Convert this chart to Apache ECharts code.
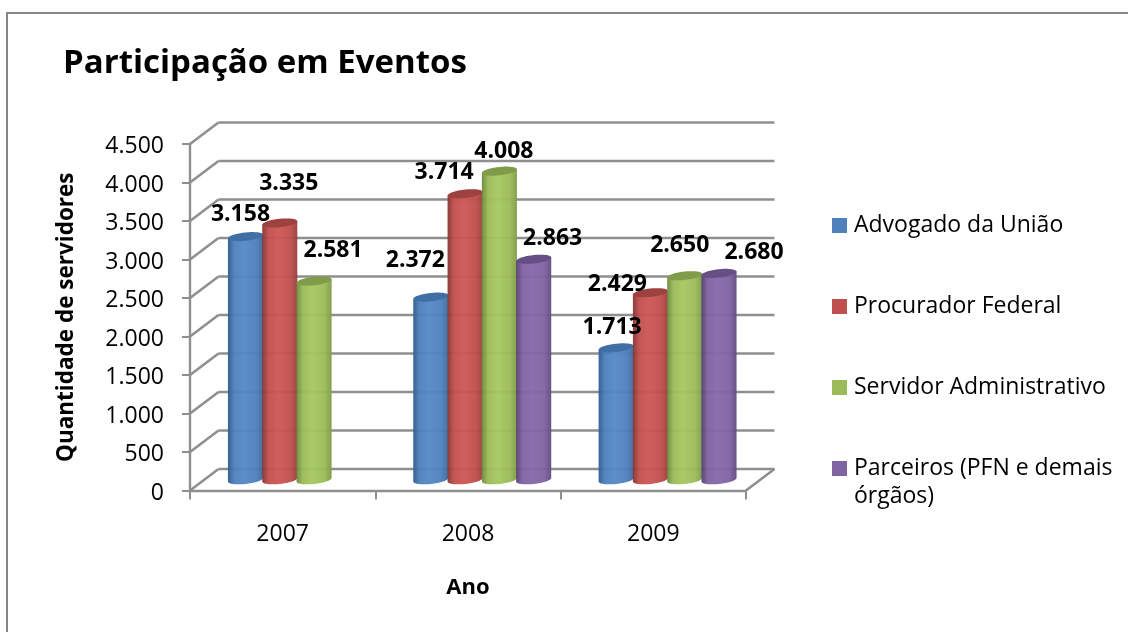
<!DOCTYPE html>
<html><head><meta charset="utf-8">
<style>html,body{margin:0;padding:0;background:#fff}#c{width:1128px;height:632px}</style>
<script src="https://cdn.jsdelivr.net/npm/echarts@6/dist/echarts.min.js"></script>
</head><body><div id="c"></div>
<script>
const categories = ['2007', '2008', '2009'];
const yTicks = [0, 500, 1000, 1500, 2000, 2500, 3000, 3500, 4000, 4500];
const seriesNames = ['Advogado da União', 'Procurador Federal', 'Servidor Administrativo', 'Parceiros (PFN e demais órgãos)'];
const advogado = [3158, 2372, 1713];
const procurador = [3335, 3714, 2429];
const servidor = [2581, 4008, 2650];
const parceiros = [null, 2863, 2680];

// label nudges in pixels, relative to each cylinder's top (style, not data)
const labelNudge = [
  [[-5, -22.5], [-15.5, -36.5], [-4, -20.5]],
  [[9, -40], [-21, -21.5], [-33, -8.5]],
  [[19, -30.5], [4.5, -20], [-5, -30.5]],
  [[0, 0], [19, -20.5], [35, -20.5]]
];
const palette = [
  {base:'#4F81BD', edgeL:'#2f5b8e', mid:'#5589c6', edgeR:'#3f6a9c', top:'#3f6fa5'},
  {base:'#C0504D', edgeL:'#863533', mid:'#cd5855', edgeR:'#9c403e', top:'#9e4240'},
  {base:'#9BBB59', edgeL:'#6c8a3c', mid:'#a6c960', edgeR:'#7f9c48', top:'#7f9c4a'},
  {base:'#8064A2', edgeL:'#54406f', mid:'#8669ab', edgeR:'#634d80', top:'#664f84'}
];
const FONT = '"Open Sans", "Noto Sans", sans-serif';
const DX = 28.5, DY = -21.5, GRID = '#8f8f8f';
const fmt = v => String(v).replace(/\B(?=(\d{3})+$)/g, '.');

function ellipsePts(cx, cy, rx, ry, tilt, from, to, n) {
  const pts = [];
  for (let i = 0; i <= n; i++) {
    const t = from + (to - from) * i / n;
    const x = Math.cos(t) * rx, y = Math.sin(t) * ry;
    pts.push([cx + x, cy + y - x / rx * tilt]);
  }
  return pts;
}

function cylinder(si) {
  return function (params, api) {
    const v = api.value(1);
    const cat = api.value(0);
    const band = api.size([1, 0])[0];
    const slot = band * 0.185;
    const rx = slot / 2 + 0.4, ry = 4.2, tilt = 1.8;
    const top = api.coord([cat, v]);
    const base = api.coord([cat, 0]);
    const cx = top[0] + DX / 2 + (si - 1.5) * slot;
    const yT = top[1] + DY / 2, yB = base[1] + DY / 2;
    const p = palette[si];
    const bottom = ellipsePts(cx, yB, rx, ry, tilt, 0, Math.PI, 24);
    const body = [[cx + rx, yT - tilt]].concat(bottom, [[cx - rx, yT + tilt]]);
    const grad = new echarts.graphic.LinearGradient(0, 0, 1, 0, [
      {offset: 0, color: p.edgeL}, {offset: 0.18, color: p.base}, {offset: 0.45, color: p.mid},
      {offset: 0.8, color: p.base}, {offset: 1, color: p.edgeR}
    ]);
    const n = labelNudge[si][cat];
    return {
      type: 'group',
      children: [
        {type: 'polygon', z2: 10 + si * 2, shape: {points: body}, style: {fill: grad, opacity: 0.96}},
        {type: 'polygon', z2: 11 + si * 2, shape: {points: ellipsePts(cx, yT, rx, ry, tilt, 0, Math.PI * 2, 40)}, style: {fill: p.top}},
        {type: 'text', z2: 50, style: {
          text: fmt(v), x: cx + n[0], y: yT + n[1], align: 'center', verticalAlign: 'middle',
          font: 'bold 23px ' + FONT, fill: '#000'
        }}
      ]
    };
  };
}

function toData(arr) {
  return arr.map((v, i) => [i, v]).filter(d => d[1] !== null);
}

const option = {
  animation: false,
  backgroundColor: '#fff',
  title: {
    text: 'Participação em Eventos', left: 58, top: 42,
    textStyle: {fontFamily: FONT, fontSize: 33, fontWeight: 'bold', color: '#000'}
  },
  grid: {left: 190, right: 382, top: 144, bottom: 141.5},
  legend: {
    orient: 'vertical', left: 832, top: 213.5, padding: 0, itemWidth: 15, itemHeight: 15, itemGap: 57,
    icon: 'rect', selectedMode: false,
    data: seriesNames,
    formatter: n => n.replace(' órgãos)', ''),
    textStyle: {fontFamily: FONT, fontSize: 23, lineHeight: 24, color: '#000', padding: [0, 0, 0, 2]}
  },
  xAxis: {
    type: 'category', data: categories,
    name: 'Ano', nameLocation: 'middle', nameGap: 86,
    nameTextStyle: {fontFamily: FONT, fontSize: 22, fontWeight: 'bold', color: '#000'},
    axisLine: {lineStyle: {color: GRID, width: 2.4}},
    axisTick: {show: true, length: 9, lineStyle: {color: GRID, width: 2}},
    axisLabel: {fontFamily: FONT, fontSize: 23, color: '#000', margin: 32},
    splitLine: {show: false}
  },
  yAxis: {
    type: 'value', min: 0, max: 4500, interval: 500,
    name: 'Quantidade de servidores', nameLocation: 'middle', nameGap: 112, nameRotate: 90,
    nameTextStyle: {fontFamily: FONT, fontSize: 22.5, fontWeight: 'bold', color: '#000'},
    axisLine: {show: true, lineStyle: {color: GRID, width: 2.4}},
    axisTick: {show: true, length: 8, lineStyle: {color: GRID, width: 2}},
    axisLabel: {
      margin: 26,
      formatter: v => '{t|' + fmt(v) + '}',
      rich: {t: {fontFamily: FONT, fontSize: 23, color: '#000', lineHeight: 23, padding: [5, 0, 0, 0]}}
    },
    splitLine: {show: false}
  },
  graphic: [
    {type: 'polyline', silent: true, shape: {points: [[7, 632], [7, 13], [1128, 13]]},
     style: {stroke: '#868686', lineWidth: 2, fill: 'none'}},
    {type: 'text', silent: true, left: 854, top: 485,
     style: {text: 'órgãos)', font: '23px ' + FONT, fill: '#000'}}
  ],
  series: [
    {
      type: 'custom', name: 'grade', z: 1, silent: true, clip: false,
      data: yTicks.map(v => [0, v]),
      renderItem: function (params, api) {
        const v = api.value(1);
        const p = api.coord([0, v]);
        const cs = params.coordSys;
        const x0 = cs.x, x1 = cs.x + cs.width, y = p[1];
        const st = {stroke: GRID, lineWidth: 2.6, fill: 'none'};
        const kids = [
          {type: 'line', shape: {x1: x0, y1: y, x2: x0 + DX, y2: y + DY}, style: st},
          {type: 'line', shape: {x1: x0 + DX, y1: y + DY, x2: x1 + DX, y2: y + DY}, style: st}
        ];
        if (v === 0) kids.push({type: 'line', shape: {x1: x1, y1: y, x2: x1 + DX, y2: y + DY}, style: st});
        return {type: 'group', children: kids};
      }
    }
  ].concat([advogado, procurador, servidor, parceiros].map((arr, si) => ({
    type: 'custom', name: seriesNames[si], z: 5, clip: false,
    itemStyle: {color: palette[si].base},
    data: toData(arr),
    renderItem: cylinder(si)
  })))
};
const chart = echarts.init(document.getElementById('c'), null, {renderer: 'canvas'});
chart.setOption(option);
</script></body></html>
